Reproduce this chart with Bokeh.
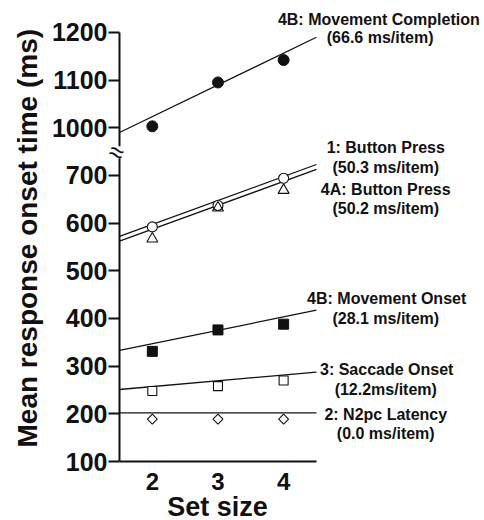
import math
from bokeh.plotting import figure
from bokeh.models import FixedTicker, Range1d, Label, Title
from bokeh.embed import file_html
from bokeh.resources import INLINE
from bokeh.core.properties import value

# ---------------- data ----------------
set_size = [2, 3, 4]

rt_button_press_exp1 = [592, 637, 694]       # 1: Button Press (open circles)
rt_button_press_exp4a = [567, 632, 669]      # 4A: Button Press (open triangles)
rt_movement_onset_4b = [331, 376, 388]       # 4B: Movement Onset (filled squares)
rt_saccade_onset_3 = [248, 258, 270]         # 3: Saccade Onset (open squares)
rt_n2pc_latency_2 = [189, 189, 189]          # 2: N2pc Latency (open diamonds)
rt_movement_completion_4b = [1003, 1095, 1142]  # 4B: Movement Completion (filled circles)

# regression lines: slope (ms/item) and fitted value at the left axis (set size 1.5)
fit_slope_completion, fit_start_completion = 66.6, 990
fit_slope_button1, fit_start_button1 = 50.3, 572
fit_slope_button4a, fit_start_button4a = 50.2, 562
fit_slope_move_onset, fit_start_move_onset = 28.1, 333
fit_slope_saccade, fit_start_saccade = 12.2, 251
fit_slope_n2pc, fit_start_n2pc = 0.0, 202

lower_ticks = [100, 200, 300, 400, 500, 600, 700]
upper_ticks = [1000, 1100, 1200]
x_ticks = [2, 3, 4]

label_texts = [
    "4B: Movement Completion", "(66.6 ms/item)",
    "1: Button Press", "(50.3 ms/item)",
    "4A: Button Press", "(50.2 ms/item)",
    "4B: Movement Onset", "(28.1 ms/item)",
    "3: Saccade Onset", "(12.2ms/item)",
    "2: N2pc Latency", "(0.0 ms/item)",
]

# ---------------- layout / broken-axis mapping ----------------
BREAK_SHIFT = 200          # upper panel (1000-1200) drawn 200 ms lower
X_START, X_END = 1.5, 4.5  # extent of the axes
LOWER_AXIS_TOP = 736       # lower y-axis segment end (ms)
UPPER_AXIS_BOTTOM = 961    # upper y-axis segment start (ms)

def up(vals):
    return [v - BREAK_SHIFT for v in vals]

FONT = "Liberation Sans"
INK = "#111111"

p = figure(frame_width=376, frame_height=461,
           x_range=Range1d(1.3325, 7.06), y_range=Range1d(100, 1066.9),
           output_backend="svg", toolbar_location=None,
           min_border_left=108, min_border_right=0, min_border_top=0,
           min_border_bottom=59)
p.outline_line_color = None
p.xgrid.visible = False
p.ygrid.visible = False
p.background_fill_color = "white"
p.border_fill_color = "white"

# x axis
xa = p.xaxis[0]
xa.ticker = FixedTicker(ticks=x_ticks)
xa.bounds = (X_START, X_END)
xa.axis_line_width = 2
xa.axis_line_color = INK
xa.major_tick_out = 0
xa.major_tick_in = 0
xa.minor_tick_out = 0
xa.minor_tick_in = 0
xa.major_label_text_font = FONT
xa.major_label_text_font_style = "bold"
xa.major_label_text_font_size = "24px"
xa.major_label_text_color = INK
xa.major_label_standoff = 11

# y axis: ticks drawn inward so they reach the axis line drawn at set size 1.5
ya = p.yaxis[0]
ticks_plot = lower_ticks + up(upper_ticks)
ya.ticker = FixedTicker(ticks=ticks_plot)
ya.major_label_overrides = {t - BREAK_SHIFT: str(t) for t in upper_ticks}
ya.axis_line_color = None
ya.major_tick_out = 0
ya.major_tick_in = 11
ya.minor_tick_out = 0
ya.minor_tick_in = 0
ya.major_tick_line_width = 2
ya.major_tick_line_color = INK
ya.major_label_standoff = 1
ya.major_label_text_font = FONT
ya.major_label_text_font_style = "bold"
ya.major_label_text_font_size = "25px"
ya.major_label_text_color = INK

p.segment(x0=[X_START, X_START], y0=[lower_ticks[0], UPPER_AXIS_BOTTOM - BREAK_SHIFT],
          x1=[X_START, X_START], y1=[LOWER_AXIS_TOP, upper_ticks[-1] - BREAK_SHIFT],
          line_color=INK, line_width=2)

# break mark
p.add_layout(Label(x=X_START, y=(LOWER_AXIS_TOP + UPPER_AXIS_BOTTOM - BREAK_SHIFT) / 2,
                   x_offset=-3, text="≈", text_font=FONT, text_font_size="26px",
                   text_align="center", text_baseline="middle", angle=-0.35,
                   text_color=INK))

# regression lines
fit_x = [X_START, X_END]

def fit_line(start, slope, shift=0):
    return [start + slope * (x - X_START) - shift for x in fit_x]

for start, slope, shift in [
    (fit_start_completion, fit_slope_completion, BREAK_SHIFT),
    (fit_start_button1, fit_slope_button1, 0),
    (fit_start_button4a, fit_slope_button4a, 0),
    (fit_start_move_onset, fit_slope_move_onset, 0),
    (fit_start_saccade, fit_slope_saccade, 0),
    (fit_start_n2pc, fit_slope_n2pc, 0),
]:
    p.line(fit_x, fit_line(start, slope, shift), line_color=INK, line_width=1.3)

# markers
p.scatter(set_size, up(rt_movement_completion_4b), marker="circle", size=11,
          fill_color=INK, line_color=INK)
p.scatter(set_size, rt_button_press_exp1, marker="circle", size=10,
          fill_color="white", line_color=INK, line_width=1.1)
p.scatter(set_size, rt_button_press_exp4a, marker="triangle", size=11,
          fill_color=None, line_color=INK, line_width=1.1)
p.scatter(set_size, rt_movement_onset_4b, marker="square", size=10,
          fill_color=INK, line_color=INK)
p.scatter(set_size, rt_saccade_onset_3, marker="square", size=9,
          fill_color="white", line_color=INK, line_width=1.1)
p.scatter(set_size, rt_n2pc_latency_2, marker="square", angle=math.pi / 4, size=7,
          fill_color="white", line_color=INK, line_width=1.1)

# right-hand labels (positions in plot coordinates)
label_x = [5.45, 5.47, 5.556, 5.556, 5.556, 5.556, 5.57, 5.556, 5.57, 5.556, 5.556, 5.556]
label_y = [1027, 988.6, 759, 717, 670, 630, 441, 399, 292, 250.4, 198.6, 158]
p.text(x=label_x, y=label_y, text=label_texts, text_font=value(FONT),
       text_font_style="bold", text_font_size="16px", text_align="center",
       text_baseline="middle", text_color=INK)

# axis titles
p.add_layout(Title(text="Mean response onset time (ms)", align="left", offset=14,
                   standoff=11, text_font=FONT, text_font_style="bold",
                   text_font_size="28px", text_color=INK), "left")
p.add_layout(Title(text="Set size", align="left", offset=58.7, standoff=-6,
                   text_font=FONT, text_font_style="bold", text_font_size="27px",
                   text_color=INK), "below")

open("out.html", "w").write(file_html(p, INLINE))
